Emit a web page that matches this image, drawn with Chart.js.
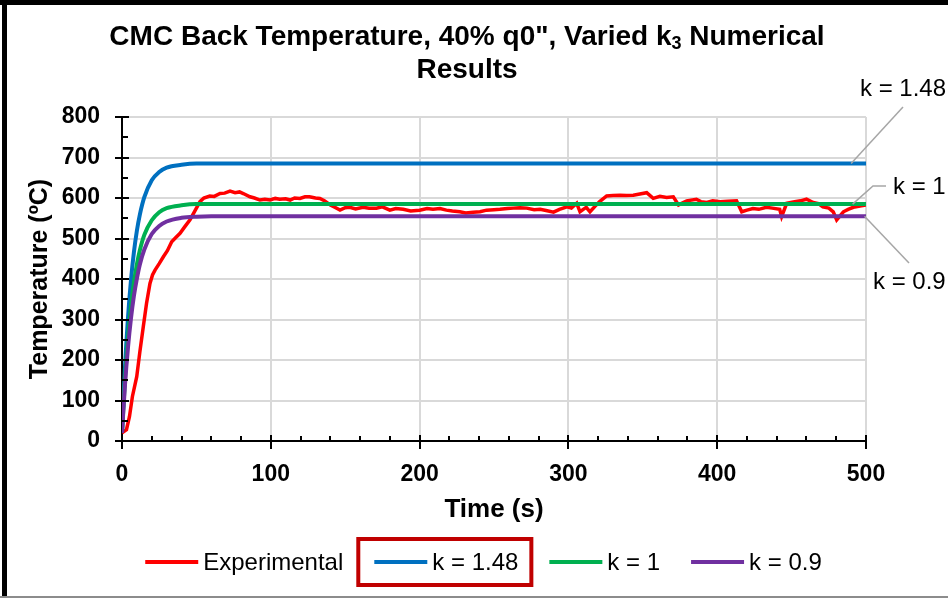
<!DOCTYPE html>
<html>
<head>
<meta charset="utf-8">
<script src="https://cdn.jsdelivr.net/npm/chart.js@4.4.1/dist/chart.umd.min.js"></script>
<style>
html,body{margin:0;padding:0;background:#fff;}
#wrap{width:948px;height:598px;position:relative;}
</style>
</head>
<body>
<div id="wrap"><canvas id="c" width="948" height="598"></canvas></div>
<script>
// ---- Data ----
const seriesNames = ['Experimental', 'k = 1.48', 'k = 1', 'k = 0.9'];
const xTicks = [0, 100, 200, 300, 400, 500];
const yTicks = [0, 100, 200, 300, 400, 500, 600, 700, 800];

const expTime = [0,3,5,7,9.9,12,14.3,16.5,18.8,20.5,22.2,25,27.8,30.5,33.4,36,39,42,45.7,49,52.4,55,59,62,65.9,69,72.6,76,79,81.5,86,89,92.7,96,99.5,103,106,110,113,116,119.6,123,126,130,133,136,140,143,146.5,150,153,157,162,166,171,175,180,184,189,194,200,205,209,213.7,218,222,227,231,236,240.6,245,250,254,259,263,267.5,272,277,281,285,290,294,299,302,305.6,307.8,310,312,314.5,318,321,325.7,330,334.7,339,343.6,348,352.6,357,361.5,366,370.5,374,379.5,386,389,393,397,402,407,413,416.5,420,424,428,433,437,442,443.3,446.7,452,456,460,464.5,468,471,475,478,480.3,484.8,488,491.5,496,500];
const expTemp = [20,28,60,110,159,220,282,340,389,410,422,438,455,470,492,502,513,528,546,568,591,600,605,604,611,612,617,613,615,611,603,600,595,597,595,599,597,598,595,600,599,603,603,600,599,593,583,577,570,576,577,573,577,575,575,578,570,574,572,568,570,574,572,574,570,568,566,563,565,566,570,571,572,574,575,576,575,571,572,569,565,572,578,575,587,566,572,577,566,580,591,605,606,607,606,607,610,613,599,604,601,603,583,593,597,591,589,593,591,592,593,566,570,574,572,577,575,572,554,587,591,593,597,589,586,578,575,566,546,566,572,577,580,583];

const modelTime = [0,2,4,6,8,10,12,15,20,25,30,40,50,60,100,200,300,400,500];
const k148Temp = [20,182,303,396,466,519,559,602,644,664,675,682,685,685,685,685,685,685,685];
const k1Temp   = [20,152,253,331,391,436,471,509,545,565,575,582,585,585,585,585,585,585,585];
const k09Temp  = [20,138,230,302,358,401,436,473,511,531,542,551,554,555,555,555,555,555,555];

const colors = ['#ff0000', '#0070c0', '#00b050', '#7030a0'];
const FONT = "'Liberation Sans', Arial, sans-serif";

function pts(xs, ys){ return xs.map((x,i)=>({x:x, y:ys[i]})); }

// ---- Plugins ----
const bgPlugin = {
  id:'bg',
  beforeDraw(chart){
    const ctx = chart.ctx; ctx.save(); ctx.fillStyle='#fff'; ctx.fillRect(0,0,chart.width,chart.height); ctx.restore();
  }
};

const ticksPlugin = {
  id:'ticksMarks',
  afterDraw(chart){
    const ctx = chart.ctx, xs = chart.scales.x, ys = chart.scales.y, a = chart.chartArea;
    ctx.save(); ctx.strokeStyle='#000'; ctx.lineWidth=2;
    for (let v=0; v<=800; v+=50){
      const py = Math.round(ys.getPixelForValue(v));
      ctx.beginPath();
      if (v%100===0){ ctx.moveTo(a.left-7, py); ctx.lineTo(a.left+7, py); }
      else { ctx.moveTo(a.left, py); ctx.lineTo(a.left+6, py); }
      ctx.stroke();
    }
    for (let v=0; v<=500; v+=20){
      const px = Math.round(xs.getPixelForValue(v));
      ctx.beginPath();
      if (v%100===0){ ctx.moveTo(px, a.bottom-6); ctx.lineTo(px, a.bottom+8); }
      else { ctx.moveTo(px, a.bottom-5); ctx.lineTo(px, a.bottom); }
      ctx.stroke();
    }
    ctx.restore();
  }
};

const titlePlugin = {
  id:'customTitle',
  afterDraw(chart){
    const ctx = chart.ctx; ctx.save();
    ctx.fillStyle='#000'; ctx.textBaseline='middle';
    const big = "bold 28px "+FONT, small = "bold 18px "+FONT;
    const p1 = 'CMC Back Temperature, 40% q0", Varied k', p2 = '3', p3 = ' Numerical';
    ctx.font = big; const w1 = ctx.measureText(p1).width, w3 = ctx.measureText(p3).width;
    ctx.font = small; const w2 = ctx.measureText(p2).width;
    const cx = 467, y1 = 37;
    let x = cx - (w1+w2+w3)/2;
    ctx.textAlign='left';
    ctx.font = big; ctx.fillText(p1, x, y1); x += w1;
    ctx.font = small; ctx.fillText(p2, x, y1+7); x += w2;
    ctx.font = big; ctx.fillText(p3, x, y1);
    ctx.textAlign='center';
    ctx.fillText('Results', cx, 70);
    ctx.restore();
  }
};

const legendPlugin = {
  id:'customLegend',
  afterDraw(chart){
    const ctx = chart.ctx; ctx.save();
    ctx.font = "24px "+FONT; ctx.textBaseline='middle'; ctx.textAlign='left';
    const lineLen = 53, gapT = 5, gapI = 31, cy = 562, center = 483.5;
    const ds = chart.data.datasets;
    const widths = ds.map(d=>lineLen+gapT+ctx.measureText(d.label).width);
    const total = widths.reduce((s,w)=>s+w,0) + gapI*(ds.length-1);
    let x = center - total/2;
    ds.forEach((d,i)=>{
      ctx.strokeStyle = d.borderColor; ctx.lineWidth = 4; ctx.lineCap='butt';
      ctx.beginPath(); ctx.moveTo(x, cy); ctx.lineTo(x+lineLen, cy); ctx.stroke();
      ctx.fillStyle='#000'; ctx.fillText(d.label, x+lineLen+gapT, cy+1);
      if (i===1){
        ctx.strokeStyle='#c00000'; ctx.lineWidth=4;
        ctx.strokeRect(x-16, cy-23, widths[i]+29, 46);
      }
      x += widths[i] + gapI;
    });
    ctx.restore();
  }
};

const calloutPlugin = {
  id:'callouts',
  afterDraw(chart){
    const ctx = chart.ctx, xs = chart.scales.x, ys = chart.scales.y; ctx.save();
    ctx.strokeStyle='#a6a6a6'; ctx.lineWidth=1.5;
    ctx.font="24px "+FONT; ctx.fillStyle='#000'; ctx.textBaseline='middle'; ctx.textAlign='left';
    // k = 1.48
    ctx.beginPath(); ctx.moveTo(xs.getPixelForValue(490), ys.getPixelForValue(k148Temp[k148Temp.length-1]));
    ctx.lineTo(903,107); ctx.stroke();
    ctx.fillText(seriesNames[1], 860, 89);
    // k = 1
    ctx.beginPath(); ctx.moveTo(xs.getPixelForValue(491), ys.getPixelForValue(k1Temp[k1Temp.length-1]));
    ctx.lineTo(873,186); ctx.lineTo(886,186); ctx.stroke();
    ctx.fillText(seriesNames[2], 893, 187);
    // k = 0.9
    ctx.beginPath(); ctx.moveTo(xs.getPixelForValue(499), ys.getPixelForValue(k09Temp[k09Temp.length-1]));
    ctx.lineTo(909,263); ctx.stroke();
    ctx.fillText(seriesNames[3], 873, 282);
    ctx.restore();
  }
};

const framePlugin = {
  id:'frame',
  afterDraw(chart){
    const ctx = chart.ctx; ctx.save();
    ctx.fillStyle='#000';
    ctx.fillRect(0,0,948,5);
    ctx.fillRect(2,0,5,598);
    ctx.fillStyle='#8c8c8c';
    ctx.fillRect(0,596,948,2);
    ctx.restore();
  }
};

const tickFont = {family:FONT, size:23, weight:'bold'};

new Chart(document.getElementById('c'), {
  type:'line',
  data:{
    datasets:[
      {label:seriesNames[0], data:pts(expTime, expTemp), borderColor:colors[0], backgroundColor:colors[0], borderWidth:3.5, tension:0, order:4},
      {label:seriesNames[1], data:pts(modelTime, k148Temp), borderColor:colors[1], backgroundColor:colors[1], borderWidth:4, cubicInterpolationMode:'monotone', order:3},
      {label:seriesNames[2], data:pts(modelTime, k1Temp), borderColor:colors[2], backgroundColor:colors[2], borderWidth:4, cubicInterpolationMode:'monotone', order:2},
      {label:seriesNames[3], data:pts(modelTime, k09Temp), borderColor:colors[3], backgroundColor:colors[3], borderWidth:4, cubicInterpolationMode:'monotone', order:1}
    ]
  },
  options:{
    responsive:false, animation:false, devicePixelRatio:1,
    elements:{point:{radius:0}},
    layout:{padding:{left:0, right:82, top:117, bottom:62}},
    plugins:{legend:{display:false}, title:{display:false}, tooltip:{enabled:false}},
    scales:{
      x:{
        type:'linear', min:0, max:500,
        afterBuildTicks(s){ s.ticks = xTicks.map(v=>({value:v})); },
        afterFit(s){ s.height = 95; },
        ticks:{font:tickFont, color:'#000', padding:20, maxRotation:0},
        grid:{color:'#d9d9d9', lineWidth:2, drawTicks:false},
        border:{color:'#000', width:2},
        title:{display:true, text:'Time (s)', color:'#000', font:{family:FONT, size:26, weight:'bold'}, padding:{top:11, bottom:11}}
      },
      y:{
        type:'linear', min:0, max:800,
        afterBuildTicks(s){ s.ticks = yTicks.map(v=>({value:v})); },
        afterFit(s){ s.width = 122; },
        ticks:{font:tickFont, color:'#000', padding:22},
        grid:{color:'#d9d9d9', lineWidth:2, drawTicks:false},
        border:{color:'#000', width:2},
        title:{display:true, text:'Temperature (ºC)', color:'#000', font:{family:FONT, size:25, weight:'bold'}, padding:{top:25, bottom:25}}
      }
    }
  },
  plugins:[bgPlugin, ticksPlugin, titlePlugin, legendPlugin, calloutPlugin, framePlugin]
});
</script>
</body>
</html>
